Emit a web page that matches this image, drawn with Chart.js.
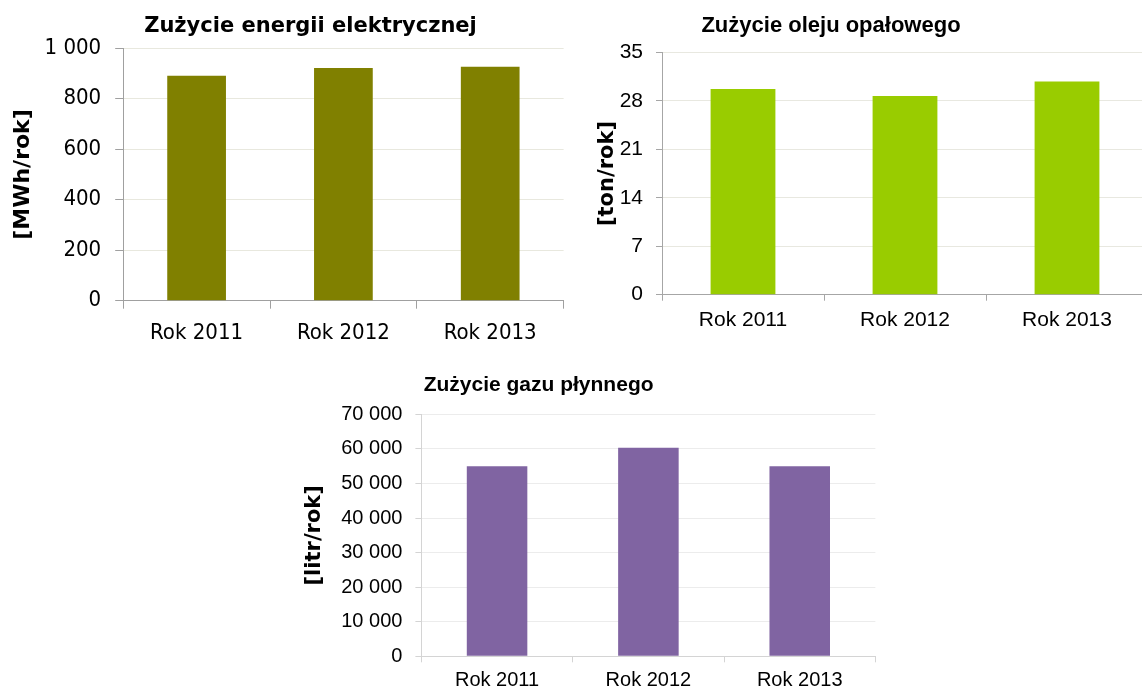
<!DOCTYPE html>
<html lang="pl">
<head>
<meta charset="utf-8">
<title>Zużycie energii, oleju i gazu 2011–2013</title>
<script src="https://cdn.jsdelivr.net/npm/chart.js@4.4.1/dist/chart.umd.min.js"></script>
<style>
  html, body { margin: 0; padding: 0; background: #fff; }
  body { width: 1142px; height: 690px; overflow: hidden; position: relative; }
  .box { position: absolute; }
</style>
</head>
<body>
<div class="box" style="left:0px;top:0px;width:600px;height:350px"><canvas id="electricityChart"></canvas></div>
<div class="box" style="left:580px;top:0px;width:600px;height:345px"><canvas id="oilChart"></canvas></div>
<div class="box" style="left:295px;top:360px;width:600px;height:330px"><canvas id="gasChart"></canvas></div>

<script>
// Categories shared by all three charts
const years = ['Rok 2011', 'Rok 2012', 'Rok 2013'];

// Electricity use [MWh/rok]
const electricityValues = [891, 922, 927];
const electricityTicks = [0, 200, 400, 600, 800, 1000];

// Heating oil use [ton/rok]
const oilValues = [29.7, 28.7, 30.8];
const oilTicks = [0, 7, 14, 21, 28, 35];

// Liquid gas use [litr/rok]
const gasValues = [55000, 60300, 55000];
const gasTicks = [0, 10000, 20000, 30000, 40000, 50000, 60000, 70000];

// Thousands separated with a space: 70000 -> "70 000"
const fmt = v => String(v).replace(/\B(?=(\d{3})+(?!\d))/g, ' ');

// Chart heading drawn at a fixed spot over the canvas
const headingPlugin = {
  id: 'heading',
  afterDraw(chart, args, opts) {
    const ctx = chart.ctx;
    ctx.save();
    ctx.font = opts.font;
    ctx.fillStyle = '#000';
    ctx.textAlign = 'center';
    ctx.textBaseline = 'alphabetic';
    ctx.fillText(opts.text, opts.x, opts.y);
    ctx.restore();
  }
};

function barChart(id, p) {
  const ticks = p.ticks;
  return new Chart(document.getElementById(id), {
    type: 'bar',
    data: {
      labels: years,
      datasets: [{
        data: p.values,
        backgroundColor: p.color,
        borderWidth: 0,
        barPercentage: 0.4,
        categoryPercentage: 1
      }]
    },
    options: {
      responsive: true,
      maintainAspectRatio: false,
      animation: false,
      layout: { padding: p.padding },
      plugins: {
        legend: { display: false },
        tooltip: { enabled: false },
        title: { display: false },
        heading: p.heading
      },
      scales: {
        x: {
          grid: {
            display: true,
            drawOnChartArea: false,
            drawTicks: true,
            tickLength: p.xTick,
            tickColor: p.axisColor,
            offset: true
          },
          border: { display: true, color: p.axisColor, width: 1 },
          ticks: { color: '#000', font: p.tickFont, padding: p.xPad, maxRotation: 0, autoSkip: false },
          afterFit: s => { s.height = p.xHeight; }
        },
        y: {
          min: ticks[0],
          max: ticks[ticks.length - 1],
          afterBuildTicks: s => { s.ticks = ticks.map(v => ({ value: v })); },
          ticks: { color: '#000', font: p.tickFont, padding: p.yPad, callback: v => fmt(v) },
          grid: {
            color: p.gridColor,
            tickColor: p.axisColor,
            tickLength: p.yTick,
            drawTicks: true
          },
          border: { display: true, color: p.axisColor, width: 1 },
          title: {
            display: true,
            text: p.unit,
            color: '#000',
            font: p.unitFont,
            padding: { top: p.unitPad, bottom: 0 }
          },
          afterFit: s => { s.width = p.yWidth; }
        }
      }
    },
    plugins: [headingPlugin]
  });
}

barChart('electricityChart', {
  values: electricityValues,
  ticks: electricityTicks,
  color: '#808000',
  gridColor: '#e8e8de',
  axisColor: '#a0a0a0',
  padding: { top: 48.3, right: 36.4, bottom: 0, left: 0 },
  yWidth: 123.2,
  xHeight: 49.3,
  tickFont: { family: "'DejaVu Sans Condensed', 'DejaVu Sans'", size: 22 },
  yPad: 14, yTick: 8, xTick: 8, xPad: 11,
  unit: '[MWh/rok]',
  unitFont: { family: "'DejaVu Sans'", size: 22, weight: 'bold' },
  unitPad: 10,
  heading: { text: 'Zużycie energii elektrycznej', font: "bold 21px 'DejaVu Sans'", x: 310.5, y: 32 }
});

barChart('oilChart', {
  values: oilValues,
  ticks: oilTicks,
  color: '#99cc00',
  gridColor: '#e8e8e0',
  axisColor: '#a6a6a6',
  padding: { top: 52.3, right: 32, bottom: 0, left: 0 },
  yWidth: 82,
  xHeight: 50.3,
  tickFont: { family: "'Liberation Sans', Arial", size: 21 },
  yPad: 13, yTick: 6, xTick: 6, xPad: 7,
  unit: '[ton/rok]',
  unitFont: { family: "'DejaVu Sans'", size: 21, weight: 'bold' },
  unitPad: 15,
  heading: { text: 'Zużycie oleju opałowego', font: "bold 22px 'Liberation Sans'", x: 251, y: 32 }
});

barChart('gasChart', {
  values: gasValues,
  ticks: gasTicks,
  color: '#8064a2',
  gridColor: '#ececec',
  axisColor: '#d4d4d4',
  padding: { top: 54.3, right: 19.6, bottom: 0, left: 0 },
  yWidth: 126.4,
  xHeight: 33.7,
  tickFont: { family: "'Liberation Sans', Arial", size: 20 },
  yPad: 13, yTick: 6, xTick: 6, xPad: 6,
  unit: '[litr/rok]',
  unitFont: { family: "'DejaVu Sans'", size: 21, weight: 'bold' },
  unitPad: 7,
  heading: { text: 'Zużycie gazu płynnego', font: "bold 21px 'Liberation Sans'", x: 243.6, y: 30.7 }
});
</script>
</body>
</html>
